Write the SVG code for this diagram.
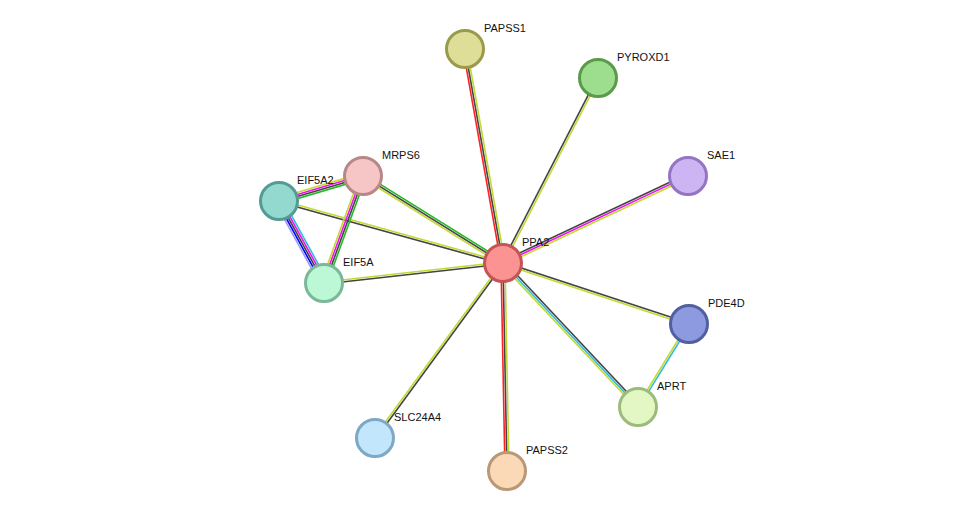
<svg xmlns="http://www.w3.org/2000/svg" width="976" height="517" viewBox="0 0 976 517">
<style>
line{stroke-width:1.6;fill:none}
.y{stroke:#c3d934}.k{stroke:#444}.r{stroke:#f22}.g{stroke:#2b2}.m{stroke:#e1e}.b{stroke:#00f}.lb{stroke:#99f}.c{stroke:#3bd}
circle{stroke-width:3}
text{font-family:"Liberation Sans",Arial,sans-serif;font-size:11px;fill:#111}
</style>
<rect width="976" height="517" fill="#fff"/>
<g id="edges">
<g transform="translate(503,263) rotate(-100.07)"><line class="r" x2="217" y1="-2" y2="-2"/><line class="k" x2="217"/><line class="y" x2="217" y1="2" y2="2"/></g>
<g transform="translate(503,263) rotate(-62.8)"><line class="k" x2="208" y1="-1" y2="-1"/><line class="y" x2="208" y1="1" y2="1"/></g>
<g transform="translate(503,263) rotate(-25.2)"><line class="k" x2="204" y1="-2" y2="-2"/><line class="m" x2="204"/><line class="y" x2="204" y1="2" y2="2"/></g>
<g transform="translate(503,263) rotate(-148.1)"><line class="y" x2="165" y1="-2" y2="-2"/><line class="k" x2="165"/><line class="g" x2="165" y1="2" y2="2"/></g>
<g transform="translate(503,263) rotate(-164.5)"><line class="k" x2="232" y1="-1" y2="-1"/><line class="y" x2="232" y1="1" y2="1"/></g>
<g transform="translate(503,263) rotate(173.6)"><line class="k" x2="180" y1="-1" y2="-1"/><line class="y" x2="180" y1="1" y2="1"/></g>
<g transform="translate(503,263) rotate(18.2)"><line class="k" x2="196" y1="-1" y2="-1"/><line class="y" x2="196" y1="1" y2="1"/></g>
<g transform="translate(503,263) rotate(46.8)"><line class="k" x2="197" y1="-2" y2="-2"/><line class="c" x2="197"/><line class="y" x2="197" y1="2" y2="2"/></g>
<g transform="translate(503,263) rotate(88.9)"><line class="y" x2="208" y1="-2" y2="-2"/><line class="k" x2="208"/><line class="r" x2="208" y1="2" y2="2"/></g>
<g transform="translate(503,263) rotate(126.2)"><line class="k" x2="217" y1="-1" y2="-1"/><line class="y" x2="217" y1="1" y2="1"/></g>
<g transform="translate(363,176) rotate(163.4)"><line class="g" x2="88" y1="-3" y2="-3"/><line class="k" x2="88" y1="-1" y2="-1"/><line class="m" x2="88" y1="1" y2="1"/><line class="y" x2="88" y1="3" y2="3"/></g>
<g transform="translate(363,176) rotate(110)"><line class="g" x2="114" y1="-3" y2="-3"/><line class="k" x2="114" y1="-1" y2="-1"/><line class="m" x2="114" y1="1" y2="1"/><line class="y" x2="114" y1="3" y2="3"/></g>
<g transform="translate(279,201) rotate(61.2)"><line class="c" x2="94" y1="-4" y2="-4"/><line class="m" x2="94" y1="-2" y2="-2"/><line class="k" x2="94"/><line class="b" x2="94" y1="2" y2="2"/><line class="lb" x2="94" y1="4" y2="4"/></g>
<g transform="translate(689,324) rotate(121.6)"><line class="c" x2="97" y1="-1" y2="-1"/><line class="y" x2="97" y1="1" y2="1"/></g>
</g>
<g id="PAPSS1"><circle cx="465" cy="49" r="18.5" fill="#dede99" stroke="#9a9a4a"/><text x="484" y="32">PAPSS1</text></g>
<g id="PYROXD1"><circle cx="598" cy="78" r="18.5" fill="#9ddd8e" stroke="#5a9a4a"/><text x="617" y="61">PYROXD1</text></g>
<g id="SAE1"><circle cx="688" cy="176" r="18.5" fill="#cdb5f3" stroke="#9474c4"/><text x="707" y="159">SAE1</text></g>
<g id="MRPS6"><circle cx="363" cy="176" r="18.5" fill="#f6c6c6" stroke="#b88888"/><text x="382" y="159">MRPS6</text></g>
<g id="EIF5A2"><circle cx="279" cy="201" r="18.5" fill="#94d9d0" stroke="#559b93"/><text x="297" y="184">EIF5A2</text></g>
<g id="EIF5A"><circle cx="324" cy="283" r="18.5" fill="#bcf7d6" stroke="#7bb898"/><text x="343" y="266">EIF5A</text></g>
<g id="PPA2"><circle cx="503" cy="263" r="18.5" fill="#fb9393" stroke="#c25555"/><text x="522" y="246">PPA2</text></g>
<g id="PDE4D"><circle cx="689" cy="324" r="18.5" fill="#8d9ae0" stroke="#525fa0"/><text x="708" y="307">PDE4D</text></g>
<g id="APRT"><circle cx="638" cy="407" r="18.5" fill="#e2f7c4" stroke="#9dbb7a"/><text x="657" y="390">APRT</text></g>
<g id="SLC24A4"><circle cx="375" cy="438" r="18.5" fill="#c2e6fb" stroke="#7ea8c4"/><text x="394" y="421">SLC24A4</text></g>
<g id="PAPSS2"><circle cx="507" cy="471" r="18.5" fill="#fbd8b6" stroke="#b99878"/><text x="526" y="454">PAPSS2</text></g>
</svg>
